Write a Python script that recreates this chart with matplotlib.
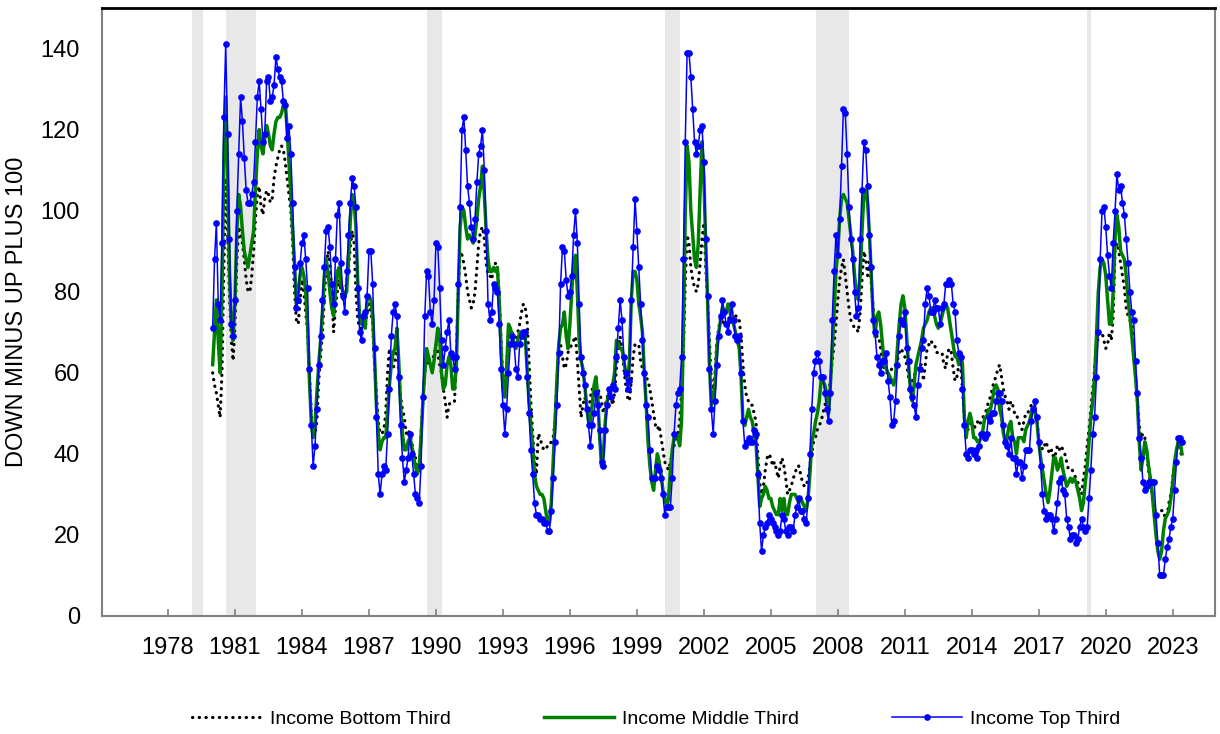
import pandas as pd
import matplotlib.pyplot as plt

plt.rcParams['font.family'] = ['Liberation Sans', 'DejaVu Sans']

# monthly index values, Dec 1980 onwards
top_third = [
    71, 88, 97, 77, 73, 92, 123, 141, 119, 93, 72, 69, 78, 100, 114, 128, 122, 113, 105, 102,
    102, 104, 107, 117, 128, 132, 125, 117, 119, 132, 133, 127, 128, 131, 138, 135, 133, 132, 127, 126,
    118, 121, 114, 102, 86, 76, 78, 87, 92, 94, 88, 81, 61, 47, 37, 42, 51, 62, 69, 78,
    86, 95, 96, 91, 82, 77, 88, 99, 102, 87, 79, 75, 85, 94, 102, 108, 106, 101, 81, 70,
    68, 74,
    75, 79, 90, 90, 82, 66, 49, 35, 30, 35, 37, 36, 45, 56, 69, 75, 77, 74, 59, 47,
    39, 33, 36, 39, 45, 40, 35, 30, 29, 28, 37, 54, 74, 85, 84, 75, 72, 78, 92, 91,
    81, 68, 62, 66, 70, 73, 65, 64, 61, 64, 82, 101, 120, 123, 115, 106, 102, 96, 93, 98,
    107, 114, 116, 120, 110, 95, 77, 73, 75, 82, 81, 80, 72, 61, 52, 45, 51, 60, 67, 69,
    67, 61, 59, 67, 69, 70, 70, 59, 50, 41, 35, 28, 25,
    25, 24, 24, 23, 23, 21, 21, 26, 34, 43, 52, 65, 82, 91, 90, 83, 79, 80, 84, 94,
    100, 92, 77, 64, 60, 57, 51, 47, 42, 47, 50, 55, 52, 46, 38, 37, 46, 52, 56, 54,
    57, 56, 64, 71, 78, 73, 64, 60, 56, 58, 78, 91, 103, 95, 86, 77, 68, 60, 52, 49,
    41, 34, 34, 34, 37, 36, 34, 30, 25, 27, 27, 27, 34, 45, 52, 55, 56, 64, 88, 117,
    139, 139, 133, 125, 117, 114, 116, 120, 121, 112,
    93, 79, 61, 51, 45, 53, 62, 69, 74, 78, 75, 72, 70, 73, 77, 73, 69, 68, 69, 60,
    48, 42, 43, 44, 43, 43, 46, 45, 35, 23, 16, 20, 22, 23, 25, 24, 23, 22, 21, 20,
    21, 25, 24, 21, 20, 22, 22, 21, 25, 27, 29, 26, 26, 24, 23, 29, 40, 51, 60, 63,
    65, 63, 59, 59, 55, 51, 48, 55, 73, 85, 94, 89, 98, 111,
    125, 124, 114, 101, 93, 88, 80, 74, 76, 93, 105, 117, 115, 106,
    94, 86, 73, 70, 64, 62, 60, 63, 63, 65, 58, 54, 47, 48, 53, 62, 69, 73, 72, 75,
    66, 63, 56, 54, 52, 49, 57, 61, 66, 68, 77, 81, 79, 75, 75, 78, 76, 76, 72, 76,
    77, 82, 82, 83, 82, 77, 75, 68, 65, 64, 56, 47, 40, 39, 41, 41, 40, 41, 39, 42,
    45, 45, 44, 45, 49, 48, 50, 50, 53, 55, 55, 53, 47, 43, 42, 40, 44, 39, 39, 35,
    38, 38, 34, 37, 41,
    41, 41, 48, 51, 53, 49, 43, 37, 30, 26, 24, 25, 25, 24, 21, 24, 28, 33, 34, 31,
    30, 24, 22, 19, 20, 20, 18, 19, 22, 24, 22, 21, 22, 29, 36, 45, 49, 59, 70, 88,
    100, 101, 96, 89, 84, 81, 92, 100, 109, 105, 106, 102, 99, 93, 87, 80, 75, 73, 63, 55,
    44, 39, 33, 31, 32, 33, 33, 33, 33, 25, 18, 10, 10, 10, 14, 17, 19, 22, 24, 31,
    38, 44, 44, 43,
]

middle_third = [
    62, 70, 78, 68, 60, 80, 112, 128, 110, 85, 72, 68, 78, 95, 104, 101, 95, 90, 88, 86,
    89, 92, 95, 105, 114, 120, 116, 114, 118, 121, 119, 116, 115, 119, 122, 123, 123, 124, 126, 127,
    120, 112, 104, 95, 87, 77, 80, 84, 86, 84, 80, 72, 58, 48, 44, 47, 55, 62, 68, 75,
    84, 88, 85, 80, 76, 74, 80, 85, 86, 82, 80, 79, 80, 88, 98, 104, 102, 96, 82, 74,
    72, 73,
    71, 78, 79, 78, 74, 64, 52, 45, 41, 43, 44, 44, 50, 57, 62, 65, 66, 71, 63, 52,
    45, 41, 41, 43, 44, 42, 39, 37, 35, 37, 44, 53, 60, 66, 64, 62, 60, 63, 67, 71,
    69, 60, 56, 57, 62, 64, 62, 56, 56, 62, 80, 96, 101, 100, 96, 93, 94, 93, 92, 94,
    98, 103, 106, 111, 104, 95, 88, 85, 85, 86, 85, 86, 78, 66, 56, 54, 61, 72, 71, 69,
    67, 66, 68, 70, 70, 69, 69, 61, 53, 47, 42, 35, 32,
    31, 30, 30, 29, 26, 23, 23, 28, 38, 48, 58, 67, 71, 72, 75, 69, 66, 72, 80, 87,
    89, 80, 68, 63, 61, 57, 52, 48, 48, 52, 57, 59, 54, 44, 37, 40, 48, 53, 55, 56,
    57, 60, 68, 67, 66, 66, 63, 60, 58, 63, 78, 85, 85, 83, 77, 74, 70, 60, 52, 43,
    37, 33, 31, 36, 40, 38, 35, 31, 29, 27, 29, 36, 41, 44, 45, 44, 42, 48, 70, 99,
    116, 112, 100, 94, 88, 86, 92, 105, 117, 108,
    92, 78, 62, 52, 53, 57, 66, 70, 73, 76, 75, 75, 77, 75, 73, 72, 70, 68, 66, 59,
    48, 47, 49, 51, 49, 48, 45, 43, 35, 27, 29, 30, 32, 31, 29, 29, 27, 26, 25, 25,
    29, 26, 29, 25, 25, 28, 30, 30, 30, 29, 28, 29, 28, 27, 26, 29, 35, 43, 45, 48,
    50, 53, 58, 58, 57, 55, 50, 57, 66, 75, 85, 90, 98, 103,
    104, 103, 102, 98, 94, 90, 84, 80, 78, 84, 95, 104, 105, 102,
    94, 84, 74, 69, 74, 75, 72, 67, 62, 61, 60, 59, 58, 57, 59, 66, 72, 77, 79, 76,
    69, 62, 56, 53, 57, 62, 64, 66, 68, 71, 72, 73, 75, 76, 76, 74, 72, 71, 72, 74,
    76, 77, 76, 73, 70, 67, 64, 64, 62, 65, 62, 49, 44, 48, 50, 48, 44, 44, 43, 43,
    44, 46, 49, 49, 51, 51, 53, 56, 57, 56, 51, 49, 45, 43, 44, 47, 48, 44, 43, 40,
    44, 44, 44, 43, 46,
    47, 48, 50, 51, 50, 48, 43, 39, 36, 33, 30, 28, 31, 35, 39, 39, 36, 37, 39, 36,
    34, 32, 33, 34, 33, 34, 33, 31, 29, 26, 28, 33, 37, 43, 49, 53, 59, 69, 80, 86,
    88, 87, 84, 78, 72, 72, 80, 93, 99, 96, 90, 89, 88, 84, 78, 74, 69, 64, 59, 53,
    43, 36, 39, 43, 41, 37, 34, 30, 25, 20, 16, 14, 16, 21, 24, 25, 26, 29, 33, 38,
    41, 43, 43, 40,
]

bottom_third = [
    60, 57, 55, 52, 49, 60, 85, 108, 95, 80, 68, 63, 72, 88, 96, 94, 92, 88, 83, 80,
    80, 84, 90, 98, 104, 106, 101, 99, 103, 105, 104, 102, 103, 108, 111, 113, 115, 116, 115, 112,
    108, 104, 100, 92, 80, 73, 72, 78, 83, 80, 75, 70, 60, 50, 46, 45, 48, 58, 64, 70,
    78, 86, 90, 87, 80, 70, 76, 80, 83, 80, 78, 80, 82, 86, 91, 95, 92, 80, 73, 71,
    71, 72,
    71, 75, 77, 75, 72, 62, 55, 48, 45, 45, 46, 50, 60, 66, 62, 61, 63, 68, 60, 54,
    51, 49, 45, 46, 45, 43, 40, 39, 35, 36, 45, 53, 60, 64, 62, 64, 64, 64, 67, 65,
    62, 60, 56, 53, 49, 52, 53, 53, 53, 65, 80, 90, 89, 87, 84, 80, 78, 76, 77, 80,
    86, 92, 95, 96, 93, 87, 84, 84, 83, 86, 87, 87, 79, 68, 58, 56, 62, 70, 71, 70,
    66, 68, 70, 72, 75, 77, 76, 73, 63, 53, 45, 38, 35,
    45, 44, 42, 41, 41, 42, 42, 43, 44, 48, 58, 66, 67, 64, 61, 62, 65, 66, 67, 68,
    69, 63, 56, 49, 52, 54, 52, 50, 54, 56, 54, 57, 56, 55, 53, 50, 52, 54, 55, 54,
    52, 55, 61, 66, 69, 66, 61, 57, 54, 53, 58, 64, 67, 67, 67, 63, 61, 60, 59, 58,
    56, 53, 50, 47, 46, 47, 44, 41, 38, 37, 36, 38, 40, 42, 44, 45, 48, 55, 65, 82,
    94, 92, 86, 83, 81, 80, 82, 87, 93, 97,
    86, 78, 68, 58, 55, 60, 68, 71, 74, 72, 73, 72, 73, 74, 75, 74, 74, 74, 73, 69,
    62, 57, 54, 53, 52, 52, 50, 48, 40, 33, 30, 32, 36, 39, 40, 39, 37, 38, 36, 34,
    37, 39, 37, 34, 30, 31, 32, 34, 35, 37, 37, 35, 33, 32, 32, 34, 37, 40, 43, 44,
    46, 47, 48, 50, 52, 53, 55, 58, 63, 67, 72, 78, 83, 86,
    88, 84, 80, 76, 73, 72, 71, 71, 70, 75, 83, 90, 88, 84,
    88, 82, 76, 71, 69, 69, 66, 62, 61, 60, 60, 60, 61, 61, 62, 63, 65, 66, 65, 64,
    62, 59, 59, 58, 59, 61, 62, 62, 62, 58, 62, 66, 67, 68, 67, 67, 65, 65, 65, 65,
    62, 61, 65, 66, 65, 61, 58, 59, 62, 62, 56, 49, 46, 46, 47, 48, 46, 47, 48, 47,
    48, 49, 50, 51, 53, 54, 56, 58, 59, 61, 62, 59, 56, 54, 53, 51, 53, 52, 50, 50,
    48, 47, 46, 48, 50,
    50, 51, 52, 52, 51, 48, 44, 43, 41, 42, 43, 41, 40, 41, 39, 40, 42, 41, 42, 41,
    40, 38, 36, 36, 36, 35, 34, 33, 31, 30, 34, 37, 42, 46, 51, 56, 61, 66, 69, 70,
    70, 68, 66, 67, 70, 68, 74, 90, 92, 90, 87, 84, 81, 76, 74, 73, 72, 66, 59, 53,
    47, 44, 45, 44, 40, 36, 33, 30, 26, 26, 26, 26, 26, 26, 24, 25, 28, 30, 34, 38,
    41, 43, 41, 39,
]

# recession periods (start, end) in decimal years
recessions = [(1980.0, 1980.5), (1981.5, 1982.87), (1990.5, 1991.17),
              (2001.17, 2001.83), (2007.92, 2009.42), (2020.08, 2020.25)]

tick_years = list(range(1978, 2024, 3))

dates = pd.date_range("1980-12-01", periods=len(top_third), freq="MS")
x = dates.year + (dates.month - 1) / 12

fig = plt.figure(figsize=(12.2, 7.34), dpi=100)
ax = fig.add_axes([102 / 1220, 1 - 616 / 734, (1215 - 102) / 1220, (616 - 8) / 734])

for a, b in recessions:
    ax.axvspan(a, b, color='#e8e8e8', lw=0, zorder=0)

ax.plot(x, bottom_third, color='black', lw=2.3, linestyle=(0, (0.1, 2.0)),
        dash_capstyle='round', label='Income Bottom Third', zorder=2)
ax.plot(x, middle_third, color='#008000', lw=2.5, label='Income Middle Third', zorder=3)
ax.plot(x, top_third, color='#0000ff', lw=1.1, marker='o', markersize=3.8,
        label='Income Top Third', zorder=4)

ax.set_xlim(1975.96, 2025.81)
ax.set_ylim(0, 150)
ax.set_yticks(range(0, 141, 20))
ax.set_xticks([y + 11 / 12 for y in tick_years])
ax.set_xticklabels([str(y) for y in tick_years])
ax.tick_params(axis='x', direction='in', length=5, width=1.2, color='#808080',
               pad=15, labelsize=17)
ax.tick_params(axis='y', length=0, pad=16, labelsize=17)

for s in ['left', 'bottom', 'right']:
    ax.spines[s].set_color('#808080')
    ax.spines[s].set_linewidth(1.5)
ax.spines['top'].set_color('black')
ax.spines['top'].set_linewidth(2)

ax.set_ylabel('DOWN MINUS UP PLUS 100', fontsize=17, labelpad=9)

fig.legend(loc='center', bbox_to_anchor=(0.538, 1 - 719 / 734), ncol=3, frameon=False,
           fontsize=14, handlelength=3.6, handletextpad=0.4, columnspacing=4.8)

plt.savefig('out.png', dpi=100)
